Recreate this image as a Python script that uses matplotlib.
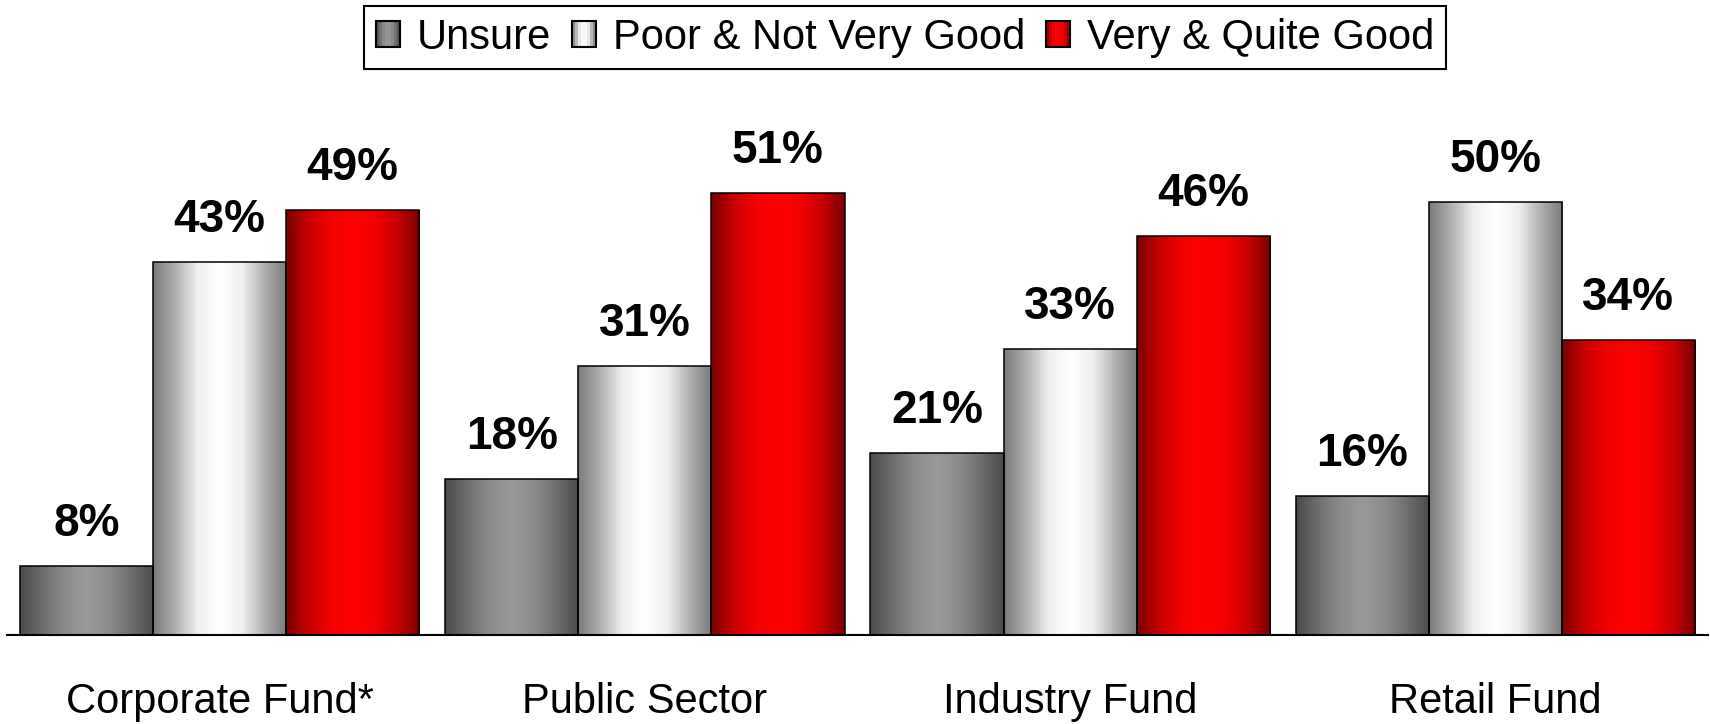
import numpy as np
import matplotlib
matplotlib.use("Agg")
import matplotlib.pyplot as plt
from matplotlib.colors import LinearSegmentedColormap
from matplotlib.patches import Rectangle, Patch

plt.rcParams['font.family'] = ['Liberation Sans', 'DejaVu Sans']

# Data
categories = ['Corporate Fund*', 'Public Sector', 'Industry Fund', 'Retail Fund']
series_names = ['Unsure', 'Poor & Not Very Good', 'Very & Quite Good']
unsure = [8, 18, 21, 16]
poor = [43, 31, 33, 50]
good = [49, 51, 46, 34]

# Gradient colours across each bar, left to right
cmaps = [
    LinearSegmentedColormap.from_list('unsure', ['#4a4a4a', '#6e6e6e', '#8c8c8c', '#999999',
                                                 '#8c8c8c', '#6e6e6e', '#4a4a4a']),
    LinearSegmentedColormap.from_list('poor', ['#7a7a7a', '#b0b0b0', '#f0f0f0', '#ffffff',
                                               '#f0f0f0', '#b0b0b0', '#7a7a7a']),
    LinearSegmentedColormap.from_list('good', ['#780000', '#c80000', '#f20000', '#ff0000',
                                               '#f20000', '#c80000', '#780000']),
]

fig = plt.figure(figsize=(17.1, 7.24), dpi=100)
ax = fig.add_axes([7 / 1710, 89 / 724, 1701 / 1710, 520 / 724])

x = np.arange(len(categories))
w = 0.313
grad = np.linspace(0, 1, 256).reshape(1, -1)

for i, vals in enumerate([unsure, poor, good]):
    bars = ax.bar(x + (i - 1) * w, vals, w, facecolor='none', edgecolor='black',
                  linewidth=1.1, zorder=3)
    for b, v in zip(bars, vals):
        im = ax.imshow(grad, extent=[b.get_x(), b.get_x() + b.get_width(), 0, b.get_height()],
                       aspect='auto', cmap=cmaps[i], zorder=2, interpolation='bilinear')
        im.set_clip_path(b)
        ax.annotate(f'{v}%', xy=(b.get_x() + b.get_width() / 2, b.get_height()),
                    xytext=(0, 30), textcoords='offset pixels', ha='center', va='baseline',
                    fontsize=33, fontweight='bold', color='black')

for xi, cat in zip(x, categories):
    ax.annotate(cat, xy=(xi, 0), xycoords=('data', 'axes fraction'), xytext=(0, -78),
                textcoords='offset pixels', ha='center', va='baseline', fontsize=30)

ax.set_xlim(-0.5, 3.5)
ax.set_ylim(0, 60)
ax.set_aspect('auto')
for s in ['top', 'right', 'left']:
    ax.spines[s].set_visible(False)
ax.spines['bottom'].set_linewidth(1.5)
ax.set_xticks([])
ax.set_yticks([])


# legend with striped gradient swatches
class GradientHandler:
    def __init__(self, cmap):
        self.cmap = cmap

    def legend_artist(self, legend, orig_handle, fontsize, handlebox):
        x0, y0 = handlebox.xdescent, handlebox.ydescent
        wd, ht = handlebox.width, handlebox.height
        n = 8
        for k in range(n):
            r = Rectangle((-x0 + k * wd / n, -y0), wd / n, ht,
                          facecolor=self.cmap((k + 0.5) / n), edgecolor='none',
                          transform=handlebox.get_transform())
            handlebox.add_artist(r)
        frame = Rectangle((-x0, -y0), wd, ht, facecolor='none', edgecolor='black',
                          linewidth=1.5, transform=handlebox.get_transform())
        handlebox.add_artist(frame)
        return frame


handles = [Patch(label=n) for n in series_names]
leg = fig.legend(handles=handles, labels=series_names, loc='upper center',
                 bbox_to_anchor=(905 / 1710, 1 - 6 / 724), ncol=3, fontsize=30,
                 frameon=True, fancybox=False, shadow=False, framealpha=1,
                 edgecolor='black', borderaxespad=0, handlelength=0.58, handleheight=0.6,
                 handletextpad=0.4, columnspacing=0.5, borderpad=0.28,
                 handler_map={h: GradientHandler(c) for h, c in zip(handles, cmaps)})
leg.get_frame().set_linewidth(1.5)

fig.savefig('out.png', dpi=100)
